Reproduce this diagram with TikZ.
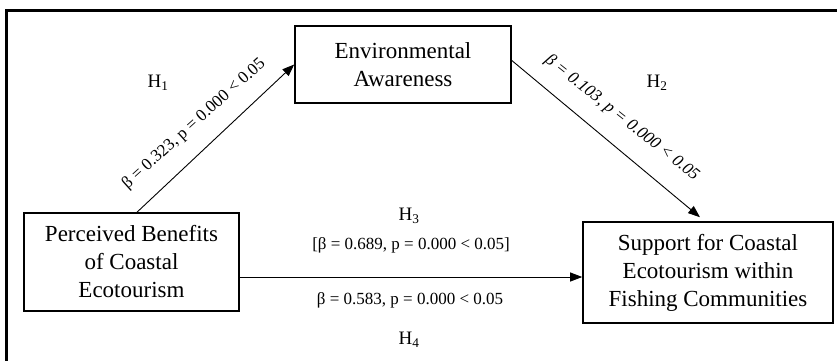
\documentclass[tikz,border=0pt]{standalone}
\usepackage{fontspec}
\setmainfont{Liberation Serif}
\usetikzlibrary{arrows.meta}
\tikzset{
  box/.style={draw, line width=1.6pt, inner sep=0pt, align=center,
    font=\fontsize{23}{28}\selectfont},
  link/.style={line width=0.9pt, -{Triangle[length=12pt,width=9pt]}},
  hyp/.style={font=\fontsize{19}{22}\selectfont, inner sep=0pt},
  stat/.style={font=\fontsize{17}{20}\selectfont, inner sep=0pt},
}
\begin{document}
\begin{tikzpicture}[x=1pt,y=-1pt]
\useasboundingbox (0,0) rectangle (837,360);
\clip (0,0) rectangle (837,360);
\fill[white] (0,0) rectangle (837,360);
\draw[line width=2.6pt] (6.5,380) -- (6.5,10.5) -- (860,10.5);

\node[box, minimum width=216pt, minimum height=77pt] (ea) at (403,64.5) {Environmental\\Awareness};
\node[box, minimum width=215pt, minimum height=98pt] (pb) at (131.5,262) {Perceived Benefits\\of Coastal\\Ecotourism};
\node[box, minimum width=250pt, minimum height=101pt] (sc) at (708,272.5) {Support for Coastal\\Ecotourism within\\Fishing Communities};

\draw[link] ([xshift=5.5pt]pb.north) -- (ea.west);
\draw[link] ([yshift=4pt]ea.east) -- ([xshift=-8pt,yshift=4pt]sc.north);
\draw[link] ([yshift=-15pt]pb.east) -- ([yshift=-15pt]pb.east -| sc.west);

\node[hyp] (h1) at (158,83) {H\textsubscript{1}};
\node[hyp] (h2) at (657,83) {H\textsubscript{2}};
\node[hyp] (h3) at (409,216) {H\textsubscript{3}};
\node[hyp] (h4) at (409,340) {H\textsubscript{4}};

\node[stat, rotate=42] (s1) at (194,124) {β = 0.323, p = 0.000 < 0.05};
\node[stat, rotate=-38.5, font=\fontsize{17}{20}\selectfont\itshape] (s2) at (622,118) {β = 0.103, p = 0.000 < 0.05};
\node[stat] (s3) at (411,245) {[β = 0.689, p = 0.000 < 0.05]};
\node[stat] (s4) at (410,300) {β = 0.583, p = 0.000 < 0.05};
\end{tikzpicture}
\end{document}
